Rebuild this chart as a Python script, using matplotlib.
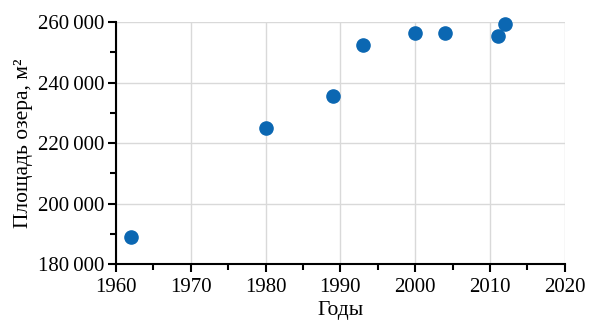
import matplotlib
matplotlib.use('Agg')
import matplotlib.pyplot as plt
from matplotlib.ticker import MultipleLocator, FuncFormatter

# данные
years = [1962, 1980, 1989, 1993, 2000, 2004, 2011, 2012]
area = [189000, 224800, 235700, 252400, 256300, 256300, 255400, 259400]

plt.rcParams['font.family'] = ['Liberation Serif', 'DejaVu Serif']

fig = plt.figure(figsize=(5.94, 3.33), dpi=100)
ax = fig.add_axes([0.195, 0.207, 0.756, 0.727])

ax.scatter(years, area, s=90, color='#0b67b2', zorder=3, clip_on=False)

ax.set_xlim(1960, 2020)
ax.set_ylim(180000, 260000)
ax.xaxis.set_major_locator(MultipleLocator(10))
ax.xaxis.set_minor_locator(MultipleLocator(5))
ax.yaxis.set_major_locator(MultipleLocator(20000))
ax.yaxis.set_minor_locator(MultipleLocator(10000))
ax.yaxis.set_major_formatter(FuncFormatter(lambda v, p: f'{int(v):,}'.replace(',', '\u2009')))

ax.grid(True, which='major', color='#d9d9d9', linewidth=1)
ax.set_axisbelow(True)
for s in ['top', 'right']:
    ax.spines[s].set_visible(False)
for s in ['left', 'bottom']:
    ax.spines[s].set_linewidth(1.5)

ax.tick_params(which='major', direction='out', length=6, width=1.5, labelsize=15)
ax.tick_params(axis='x', which='major', pad=4)
ax.tick_params(axis='y', which='major', pad=2)
ax.tick_params(which='minor', direction='out', length=4, width=1.5)

ax.set_xlabel('Годы', fontsize=15.5, labelpad=3)
ax.set_ylabel('Площадь озера, м²', fontsize=15.5, labelpad=4)

fig.savefig('out.png', dpi=100)
